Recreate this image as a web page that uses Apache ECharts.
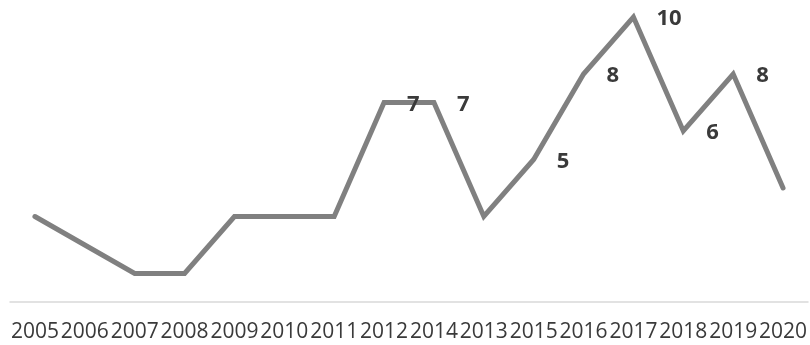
<!DOCTYPE html>
<html>
<head>
<meta charset="utf-8">
<script src="https://cdn.jsdelivr.net/npm/echarts@6/dist/echarts.min.js"></script>
<style>
  html, body { margin: 0; padding: 0; background: #ffffff; }
  #chart { width: 810px; height: 345px; }
</style>
</head>
<body>
<div id="chart"></div>
<script>
// Years on the category axis, in the order they are plotted
const years = ['2005','2006','2007','2008','2009','2010','2011','2012','2014','2013','2015','2016','2017','2018','2019','2020'];
// Count per year
const counts = [3, 2, 1, 1, 3, 3, 3, 7, 7, 3, 5, 8, 10, 6, 8, 4];
// Years whose value is printed next to the point
const labeledYears = ['2012','2014','2015','2016','2017','2018','2019'];

const seriesData = counts.map((v, i) => ({
  value: v,
  label: { show: labeledYears.includes(years[i]) }
}));

const chart = echarts.init(document.getElementById('chart'), null, { renderer: 'canvas' });
chart.setOption({
  animation: false,
  backgroundColor: '#ffffff',
  grid: { left: 10, right: 0, top: 17, bottom: 43 },
  xAxis: {
    type: 'category',
    data: years,
    boundaryGap: true,
    axisLine: { show: true, lineStyle: { color: '#d9d9d9', width: 1.5 } },
    axisTick: { show: false },
    axisLabel: {
      interval: 0,
      margin: 20,
      color: '#3a3a3a',
      fontFamily: 'Open Sans',
      fontSize: 21
    },
    splitLine: { show: false }
  },
  yAxis: {
    type: 'value',
    min: 0,
    max: 10,
    show: false,
    splitLine: { show: false }
  },
  series: [{
    type: 'line',
    data: seriesData,
    symbol: 'circle',
    symbolSize: 2,
    showSymbol: true,
    itemStyle: { color: '#808080' },
    clip: false,
    lineStyle: { color: '#808080', width: 5, cap: 'round', join: 'miter' },
    label: {
      position: 'right',
      distance: 22,
      offset: [0, 2],
      color: '#3a3a3a',
      fontFamily: 'Open Sans',
      fontWeight: 'bold',
      fontSize: 22
    }
  }]
});
</script>
</body>
</html>
